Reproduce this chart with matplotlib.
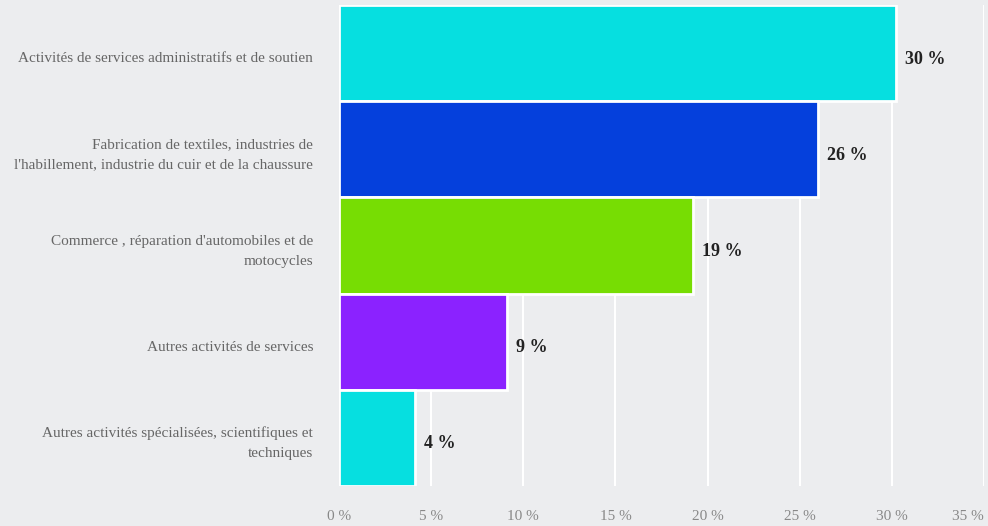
import matplotlib.pyplot as plt
from matplotlib.transforms import ScaledTranslation, blended_transform_factory

# data
categories = [
    "Activités de services administratifs et de soutien",
    "Fabrication de textiles, industries de\nl'habillement, industrie du cuir et de la chaussure",
    "Commerce , réparation d'automobiles et de\nmotocycles",
    "Autres activités de services",
    "Autres activités spécialisées, scientifiques et\ntechniques",
]
values = [30.2, 26.0, 19.2, 9.1, 4.1]
labels = ["30 %", "26 %", "19 %", "9 %", "4 %"]
colors = ["#06DFE0", "#0540DC", "#77DD03", "#8B22FF", "#06DFE0"]
xticks = [0, 5, 10, 15, 20, 25, 30, 35]

bg = "#ECEDEF"
plt.rcParams['font.family'] = ['Liberation Serif', 'DejaVu Serif']

fig = plt.figure(figsize=(9.88, 5.26), dpi=100, facecolor=bg)
ax = fig.add_axes([339 / 988, 1 - 486 / 526, 645 / 988, 481 / 526], facecolor=bg)

ypos = list(range(len(categories)))
ax.set_axisbelow(True)
ax.grid(axis='x', color='white', linewidth=1.5)
ax.barh(ypos, values, height=1.0, color=colors, edgecolor='white', linewidth=2)

# value labels
down = ScaledTranslation(0, -6 / 100, fig.dpi_scale_trans)
for y, v, t in zip(ypos, values, labels):
    ax.text(v + 0.5, y, t, va='center', ha='left', fontsize=13, fontweight='bold',
            color='#222222', transform=ax.transData + down)

# category labels (drawn as text so they can sit a bit lower)
tr = blended_transform_factory(ax.transAxes, ax.transData)
left = ScaledTranslation(-26 / 100, -5.5 / 100, fig.dpi_scale_trans)
for y, c in zip(ypos, categories):
    ax.text(0, y, c, ha='right', va='center', fontsize=11, color='#666666',
            linespacing=1.7, transform=tr + left)

ax.set_xlim(0, 35)
ax.set_ylim(len(categories) - 0.5, -0.5)
ax.set_yticks([])
ax.set_xticks(xticks)
ax.set_xticklabels([f"{t} %" for t in xticks], fontsize=11, color='#888888')
ax.get_xticklabels()[-1].set_horizontalalignment('right')
ax.tick_params(axis='both', length=0)
ax.tick_params(axis='x', pad=17)
for s in ax.spines.values():
    s.set_visible(False)

fig.savefig("out.png", dpi=100, facecolor=bg)
